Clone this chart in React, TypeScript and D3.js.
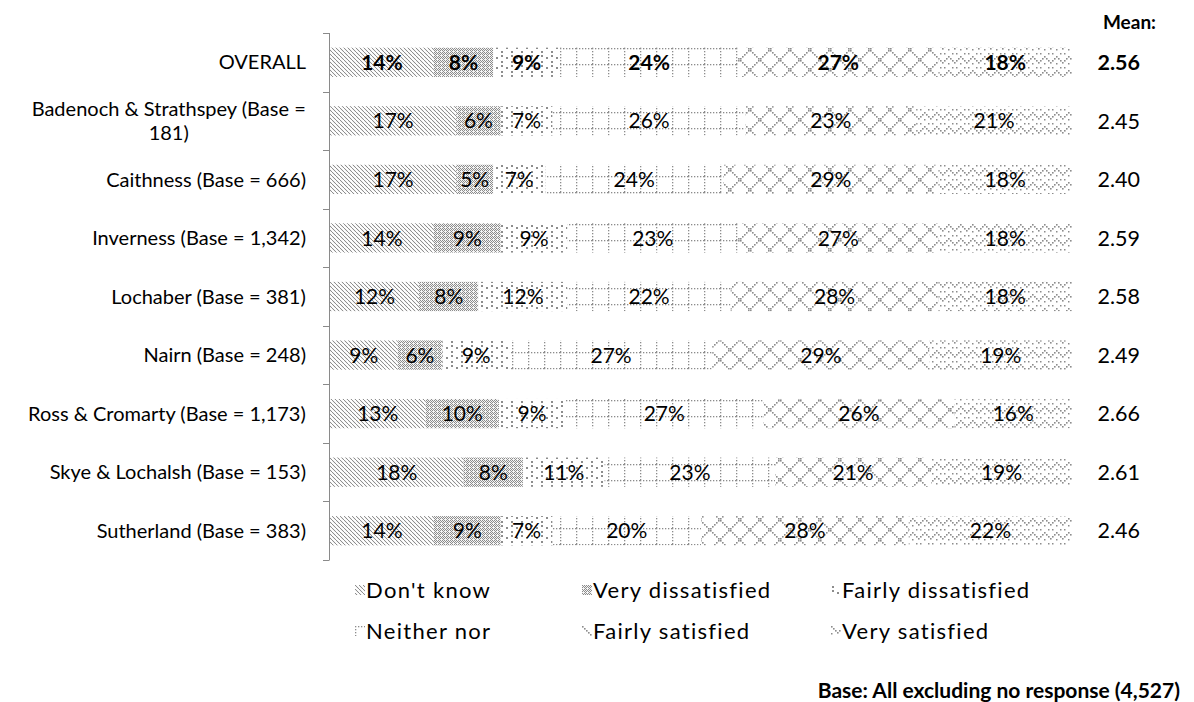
import { useMemo } from 'react';
import * as d3 from 'd3';

const categories = [
  'OVERALL',
  'Badenoch & Strathspey (Base = 181)',
  'Caithness (Base = 666)',
  'Inverness (Base = 1,342)',
  'Lochaber (Base = 381)',
  'Nairn (Base = 248)',
  'Ross & Cromarty (Base = 1,173)',
  'Skye & Lochalsh (Base = 153)',
  'Sutherland (Base = 383)',
];

const seriesNames = [
  "Don't know",
  'Very dissatisfied',
  'Fairly dissatisfied',
  'Neither nor',
  'Fairly satisfied',
  'Very satisfied',
];

const dontKnow = [14, 17, 17, 14, 12, 9, 13, 18, 14];
const veryDissatisfied = [8, 6, 5, 9, 8, 6, 10, 8, 9];
const fairlyDissatisfied = [9, 7, 7, 9, 12, 9, 9, 11, 7];
const neitherNor = [24, 26, 24, 23, 22, 27, 27, 23, 20];
const fairlySatisfied = [27, 23, 29, 27, 28, 29, 26, 21, 28];
const verySatisfied = [18, 21, 18, 18, 18, 19, 16, 19, 22];

const means = ['2.56', '2.45', '2.40', '2.59', '2.58', '2.49', '2.66', '2.61', '2.46'];

const WIDTH = 1194;
const HEIGHT = 702;
const FONT = 'Lato, "Open Sans", sans-serif';
const CAT_FS = 20;
const LABEL_FS = 21;
const LEGEND_FS = 22;
const GRAY = '#8c8c8c';

let ctx: CanvasRenderingContext2D | null = null;
const measure = (text: string, size: number, weight = 'normal') => {
  if (!ctx) ctx = document.createElement('canvas').getContext('2d');
  if (!ctx) return text.length * size * 0.5;
  ctx.font = `${weight} ${size}px Lato`;
  return ctx.measureText(text).width;
};

const wrap = (text: string, maxWidth: number) => {
  const words = text.split(' ');
  const lines: string[] = [];
  let cur = '';
  words.forEach((w) => {
    const next = cur ? cur + ' ' + w : w;
    if (cur && measure(next, CAT_FS) > maxWidth) {
      lines.push(cur);
      cur = w;
    } else {
      cur = next;
    }
  });
  if (cur) lines.push(cur);
  return lines;
};

// pixel-ish pattern tiles
const Patterns = () => {
  const sq = (x: number, y: number, s = 1, k = `${x}-${y}`, c = GRAY) => (
    <rect key={k} x={x} y={y} width={s} height={s} fill={c} />
  );
  const diag = d3.range(4).map((i) => sq(i, i, 1.1, undefined, '#8f8f8f'));
  const checker = [
    sq(0, 0, 1), sq(2, 0, 1), sq(1, 1, 1), sq(3, 1, 1),
    sq(0, 2, 1), sq(2, 2, 1), sq(3, 3, 1),
  ];
  const dots = [sq(1, 1, 2), sq(1, 5, 2), sq(6, 7, 2)];
  const grid = [
    ...d3.range(0, 16, 3).map((i) => sq(i, 0, 1.3, 'h' + i)),
    ...d3.range(3, 16, 3).map((i) => sq(0, i, 1.3, 'v' + i)),
  ];
  const lattice = [
    ...d3.range(10).map((i) => sq(2 * i, 2 * i, 1.6, 'a' + i)),
    ...d3.range(10).map((i) => sq(18 - 2 * i, 2 * i, 1.6, 'b' + i)),
  ];
  const zig = [0, 1, 2, 3, 2, 1];
  const zigzag = [
    ...zig.map((z, i) => sq(2 * i, 2 * z, 1.6, 'z' + i)),
    ...zig
      .map((z, i) => (i % 2 === 0 ? sq(2 * i, 2 * z + 7, 1.5, 'w' + i) : null))
      .filter(Boolean),
  ];
  const tiles: [string, number, number, JSX.Element[], string][] = [
    ['p0', 4, 4, diag, 'white'],
    ['p1', 4, 4, checker, '#f4f4f4'],
    ['p2', 10, 10, dots, 'white'],
    ['p3', 16, 16, grid, 'white'],
    ['p4', 20, 20, lattice, 'white'],
    ['p5', 12, 14, zigzag as JSX.Element[], 'white'],
  ];
  return (
    <defs>
      {tiles.map(([id, w, h, els, bg]) => (
        <pattern
          key={id}
          id={id}
          patternUnits="userSpaceOnUse"
          width={w}
          height={h}
        >
          <rect width={w} height={h} fill={bg} />
          {els}
        </pattern>
      ))}
    </defs>
  );
};

export default function App() {
  const rows = useMemo(
    () =>
      categories.map((c, i) => ({
        category: c,
        [seriesNames[0]]: dontKnow[i],
        [seriesNames[1]]: veryDissatisfied[i],
        [seriesNames[2]]: fairlyDissatisfied[i],
        [seriesNames[3]]: neitherNor[i],
        [seriesNames[4]]: fairlySatisfied[i],
        [seriesNames[5]]: verySatisfied[i],
      })),
    []
  );

  const stacked = useMemo(
    () =>
      d3
        .stack<any>()
        .keys(seriesNames)
        .offset(d3.stackOffsetExpand)(rows),
    [rows]
  );

  const x = d3.scaleLinear().domain([0, 1]).range([330, 1072]);
  const y = d3
    .scaleBand()
    .domain(categories)
    .range([33, 560])
    .paddingInner(0.5)
    .paddingOuter(0.25);

  const step = y.step();
  const tickYs = d3.range(categories.length + 1).map((i) => 33 + i * step);
  const labelRight = 306;
  const lineH = 24;

  const legendCols = [355, 582, 831];
  const legendRows = [590, 631];

  return (
    <svg
      width={WIDTH}
      height={HEIGHT}
      style={{ position: 'absolute', left: 0, top: 0, background: 'white' }}
      fontFamily={FONT}
    >
      <Patterns />

      {stacked.map((series, si) => (
        <g key={series.key}>
          {series.map((d, i) => {
            const cat = categories[i];
            const x0 = x(d[0]);
            const x1 = x(d[1]);
            return (
              <rect
                key={cat}
                x={x0}
                y={y(cat)!}
                width={x1 - x0}
                height={y.bandwidth()}
                fill={`url(#p${si})`}
              />
            );
          })}
        </g>
      ))}

      {stacked.map((series) =>
        series.map((d, i) => {
          const cat = categories[i];
          return (
            <text
              key={series.key + cat}
              x={(x(d[0]) + x(d[1])) / 2}
              y={y(cat)! + y.bandwidth() / 2}
              dy="0.36em"
              textAnchor="middle"
              fontSize={LABEL_FS}
              fontWeight={i === 0 ? 'bold' : 'normal'}
            >
              {`${(d.data as any)[series.key]}%`}
            </text>
          );
        })
      )}

      {/* axis */}
      <line x1={329.5} x2={329.5} y1={33} y2={560} stroke="#8a8a8a" />
      {tickYs.map((t, i) => (
        <line
          key={i}
          x1={323}
          x2={329.5}
          y1={Math.round(t) + 0.5}
          y2={Math.round(t) + 0.5}
          stroke="#8a8a8a"
        />
      ))}

      {/* category labels */}
      {categories.map((c) => {
        const lines = wrap(c, 300);
        const cy = y(c)! + y.bandwidth() / 2;
        const widest = d3.max(lines, (l) => measure(l, CAT_FS)) || 0;
        const cx = labelRight - widest / 2;
        return (
          <text
            key={c}
            fontSize={CAT_FS}
            textAnchor="middle"
            x={cx}
            y={cy - ((lines.length - 1) * lineH) / 2}
          >
            {lines.map((l, li) => (
              <tspan key={li} x={cx} dy={li === 0 ? '0.36em' : lineH}>
                {l}
              </tspan>
            ))}
          </text>
        );
      })}

      {/* means */}
      <text x={1156} y={22} dy="0.36em" textAnchor="end" fontSize={19} fontWeight="bold">
        Mean:
      </text>
      {categories.map((c, i) => (
        <text
          key={c}
          x={1140}
          y={y(c)! + y.bandwidth() / 2}
          dy="0.36em"
          textAnchor="end"
          fontSize={21.5}
          fontWeight={i === 0 ? 'bold' : 'normal'}
        >
          {means[i]}
        </text>
      ))}

      {/* legend */}
      {seriesNames.map((name, i) => {
        const lx = legendCols[i % 3];
        const ly = legendRows[Math.floor(i / 3)];
        return (
          <g key={name}>
            <g transform={`translate(${lx},${ly - 5})`}>
              <rect width={10} height={10} fill={`url(#p${i})`} />
            </g>
            <text
              x={lx + 11}
              y={ly}
              dy="0.36em"
              fontSize={LEGEND_FS}
              letterSpacing={1.3}
            >
              {name}
            </text>
          </g>
        );
      })}

      <text
        x={1180}
        y={690}
        dy="0.36em"
        textAnchor="end"
        fontSize={21}
        fontWeight="bold"
      >
        Base: All excluding no response (4,527)
      </text>
    </svg>
  );
}
